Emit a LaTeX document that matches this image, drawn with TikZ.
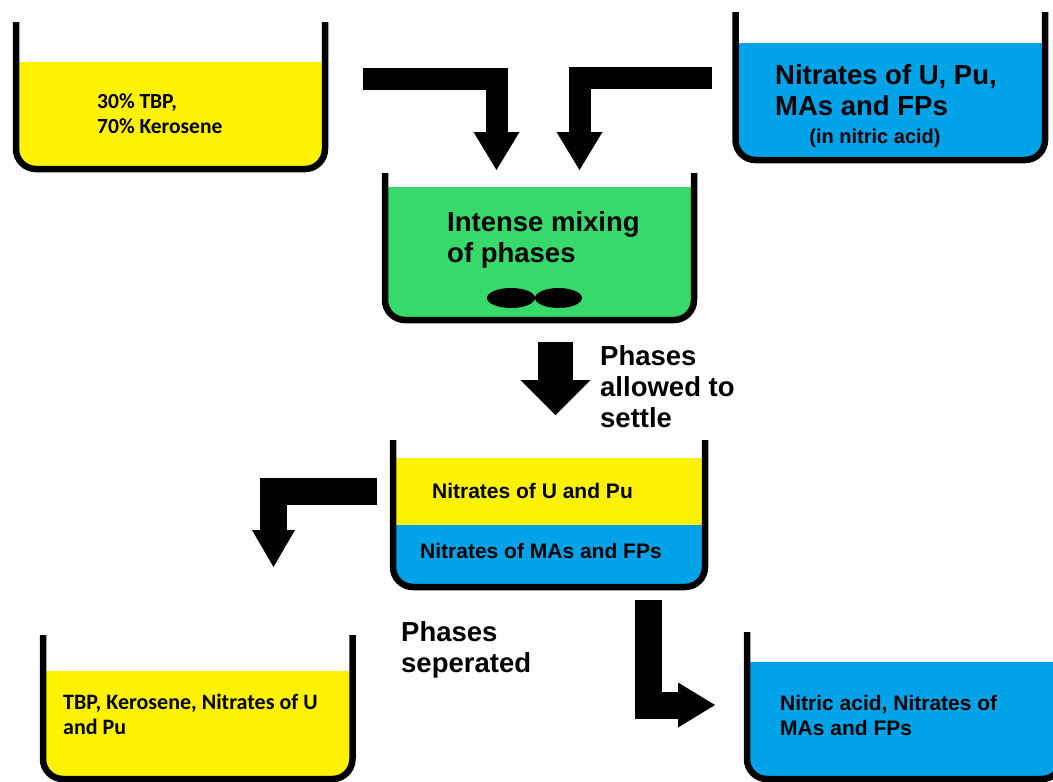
\documentclass[tikz,border=0pt]{standalone}
\usepackage{fontspec}
\setmainfont{Liberation Sans}
\newfontfamily\calfont{Carlito}
\usetikzlibrary{arrows.meta}
\definecolor{liqY}{HTML}{FFF200}
\definecolor{liqB}{HTML}{00A2E8}
\definecolor{liqG}{HTML}{36D96A}
\tikzset{
  wall/.style={line width=6.5pt, rounded corners=20pt, black},
  flow/.style={black, miter limit=10},
  big/.style={inner sep=0pt, font=\bfseries\fontsize{27.5}{31}\selectfont, align=left},
  mid/.style={inner sep=0pt, font=\bfseries\fontsize{21}{25}\selectfont, align=left},
  cal/.style={inner sep=0pt, font=\calfont\bfseries\fontsize{21.5}{25}\selectfont, align=left},
}
\newcommand\drawvessel[6]{% x1, x2, ytop, ybot, yliq, colour
  \begin{scope}
    \clip (#1,#5) rectangle (#2,{#4+12});
    \fill[#6, rounded corners=20pt] (#1,#3) rectangle (#2,#4);
  \end{scope}
}
\newcommand\drawwall[4]{% x1, x2, ytop, ybot
  \draw[wall] (#1,#3) -- (#1,#4) -- (#2,#4) -- (#2,#3);
}
\begin{document}
\begin{tikzpicture}[x=1pt,y=-1pt]
\useasboundingbox (0,0) rectangle (1053,782);
\clip (0,0) rectangle (1053,782);
\fill[white] (0,0) rectangle (1053,782);

% vessel A (top-left)
\drawvessel{16}{325}{22}{169}{62}{liqY}
\drawwall{16}{325}{22}{169}
% vessel B (top-right)
\drawvessel{735.5}{1045}{12}{160}{43}{liqB}
\drawwall{735.5}{1045}{12}{160}
% vessel C (mixing)
\drawvessel{385}{694}{173}{320}{187}{liqG}
\drawwall{385}{694}{173}{320}
\fill[black] (511,298) ellipse [x radius=24, y radius=10];
\fill[black] (558.5,298) ellipse [x radius=23.5, y radius=10];
% vessel D (settled)
\drawvessel{393}{705}{440}{587}{458}{liqY}
\drawvessel{393}{705}{440}{587}{525}{liqB}
\drawwall{393}{705}{440}{587}
% vessel E (bottom-left)
\drawvessel{43}{352.5}{635}{779}{671}{liqY}
\drawwall{43}{352.5}{635}{779}
% vessel F (bottom-right)
\drawvessel{747}{1062}{632}{779}{662}{liqB}
\drawwall{747}{1062}{632}{779}

% texts (base anchor = baseline of last line)
\node[cal, anchor=base west] (tA) at (97,133) {30\% TBP,\\70\% Kerosene};
\node[big, anchor=base west] (tB) at (775,115) {Nitrates of U, Pu,\\MAs and FPs};
\node[mid, font=\bfseries\fontsize{20}{24}\selectfont, anchor=base] (tB2) at (875,143) {(in nitric acid)};
\node[big, anchor=base west] (tC) at (447,262) {Intense mixing\\of phases};
\node[big, anchor=base west] (tS) at (600,427) {Phases\\allowed to\\settle};
\node[mid, anchor=base] (tD1) at (532.5,498) {Nitrates of U and Pu};
\node[mid, anchor=base] (tD2) at (541,558) {Nitrates of MAs and FPs};
\node[big, anchor=base west] (tP) at (401,672) {Phases\\seperated};
\node[cal, font=\calfont\bfseries\fontsize{22}{25}\selectfont, anchor=base west] (tE) at (63,734) {TBP, Kerosene, Nitrates of U\\and Pu};
\node[mid, anchor=base west] (tF) at (780,735) {Nitric acid, Nitrates of\\MAs and FPs};

% arrow end points
\coordinate (a1s) at (363,79);   \coordinate (a1t) at (496.5,170);
\coordinate (a2s) at (712,78);   \coordinate (a2t) at (579.5,170);
\coordinate (a3s) at (555.5,342); \coordinate (a3t) at (555.5,415);
\coordinate (a4s) at (377,491);  \coordinate (a4t) at (273.5,567);
\coordinate (a5s) at (648.5,600); \coordinate (a5t) at (715,705);

\draw[flow, line width=22pt, -{Triangle[width=46pt,length=38pt,line width=0pt]}] (a1s) -| (a1t);
\draw[flow, line width=22pt, -{Triangle[width=46pt,length=38pt,line width=0pt]}] (a2s) -| (a2t);
\draw[flow, line width=35pt, -{Triangle[width=70pt,length=35pt,line width=0pt]}] (a3s) -- (a3t);
\draw[flow, line width=27pt, -{Triangle[width=43pt,length=37pt,line width=0pt]}] (a4s) -| (a4t);
\draw[flow, line width=27pt, -{Triangle[width=45pt,length=37pt,line width=0pt]}] (a5s) |- (a5t);
\end{tikzpicture}
\end{document}
